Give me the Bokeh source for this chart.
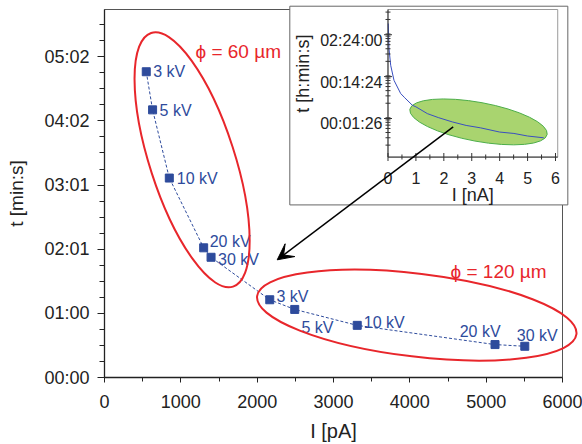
import math
from bokeh.plotting import figure
from bokeh.models import FixedTicker, Range1d, LogScale, Arrow, VeeHead
from bokeh.core.properties import value
from bokeh.embed import file_html
from bokeh.resources import INLINE

# ---------------- data ----------------
voltage_labels = ["3 kV", "5 kV", "10 kV", "20 kV", "30 kV"]
current_60 = [547, 630, 849, 1299, 1396]          # pA, phi = 60 um
time_60 = [287.9, 252.0, 187.8, 122.1, 113.2]     # s
current_120 = [2165, 2492, 3311, 5116, 5506]      # pA, phi = 120 um
time_120 = [73.2, 64.1, 49.1, 31.0, 29.4]         # s

x_ticks = [0, 1000, 2000, 3000, 4000, 5000, 6000]
y_ticks = [0, 60.4, 120.8, 181.2, 241.6, 302.0]
y_tick_labels = ["00:00", "01:00", "02:01", "03:01", "04:02", "05:02"]

# inset curve (nA, s)
inset_current = [0.01, 0.036, 0.097, 0.215, 0.454, 0.6, 0.872, 1.0, 1.41,
                 1.8, 2.30, 2.8, 3.32, 4.0, 4.51, 5.0, 5.58]
inset_time = [16000, 4024, 1608, 705, 341, 270, 179, 164, 113,
              91, 71.7, 59, 51.6, 41, 38.0, 33, 29.9]
inset_x_ticks = [0, 1, 2, 3, 4, 5, 6]
inset_y_ticks = [86.4, 864, 8640]
inset_y_labels = ["00:01:26", "00:14:24", "02:24:00"]

# ---------------- style ----------------
FONT = value("Liberation Sans")
BLUE = "#2E4B9C"
RED = "#E8262B"
AX = "#222222"

p = figure(width=582, height=444, x_range=Range1d(0, 6000), y_range=Range1d(0, 346.5),
           output_backend="svg", toolbar_location=None,
           min_border_left=104, min_border_right=20, min_border_top=9, min_border_bottom=66)
p.xgrid.visible = False
p.ygrid.visible = False
p.outline_line_color = "#555555"
p.outline_line_width = 1
p.background_fill_color = "white"
p.border_fill_color = "white"

# x axis
xa = p.xaxis[0]
xa.ticker = FixedTicker(ticks=x_ticks, minor_ticks=[v + 500 for v in x_ticks[:-1]])
xa.axis_label = "I [pA]"
xa.axis_label_text_font = "Liberation Sans"
xa.axis_label_text_font_size = "20px"
xa.axis_label_text_font_style = "normal"
xa.axis_label_text_color = AX
xa.axis_label_standoff = 9
xa.major_label_text_font = "Liberation Sans"
xa.major_label_text_font_size = "18px"
xa.major_label_text_color = AX
xa.major_label_standoff = 12
xa.major_tick_out = 5
xa.major_tick_in = 0
xa.minor_tick_out = 4
xa.minor_tick_in = 0
xa.axis_line_color = AX
xa.major_tick_line_color = AX
xa.minor_tick_line_color = AX
xa.axis_line_width = 1.3

# y axis
ya = p.yaxis[0]
minor_y = [i * 15.1 for i in range(23) if i % 4 != 0]
ya.ticker = FixedTicker(ticks=y_ticks, minor_ticks=minor_y)
ya.major_label_overrides = {v: l for v, l in zip(y_ticks, y_tick_labels)}
ya.major_label_text_font = "Liberation Sans"
ya.major_label_text_font_size = "18px"
ya.major_label_text_color = AX
ya.major_label_standoff = 8
ya.major_tick_out = 7
ya.major_tick_in = 0
ya.minor_tick_out = 5
ya.minor_tick_in = 0
ya.axis_line_color = AX
ya.major_tick_line_color = AX
ya.minor_tick_line_color = AX
ya.axis_line_width = 1.3
ya.axis_label = "t [min:s]"
ya.axis_label_text_font = "Liberation Sans"
ya.axis_label_text_font_size = "19px"
ya.axis_label_text_font_style = "normal"
ya.axis_label_text_color = AX
ya.axis_label_standoff = 14

# ---------------- main series ----------------
all_I = current_60 + current_120
all_t = time_60 + time_120
p.line(all_I, all_t, line_color=BLUE, line_width=1, line_dash="3 2")
p.scatter(all_I, all_t, marker="square", size=8, fill_color=BLUE, line_color=BLUE)

dx_60 = [7, 7, 7.5, 6, 7]
dy_60 = [0, 0.7, 0, -6.6, 2.3]
dx_120 = [6.7, 6.7, 6.6, -35.3, -8]
dy_120 = [-3, 18.3, -2.7, -13, -10.3]
p.text(all_I, all_t, text=voltage_labels + voltage_labels,
       x_offset=dx_60 + dx_120, y_offset=dy_60 + dy_120,
       text_font=FONT, text_font_size="16px", text_color=BLUE,
       text_align="left", text_baseline="alphabetic")

# red ellipses + labels
e1 = p.ellipse(x=1147.6, y=205.0, width=266.5, height=85, angle=math.radians(-72.1),
               width_units="screen", height_units="screen",
               fill_color=None, line_color=RED, line_width=2)
e2 = p.ellipse(x=4091, y=58.7, width=321.6, height=83, angle=math.radians(-6.8),
               width_units="screen", height_units="screen",
               fill_color=None, line_color=RED, line_width=2)
e1.level = "overlay"
e2.level = "overlay"
p.text(x=[1192, 4533], y=[307.4, 99.8], text=["ϕ = 60 µm", "ϕ = 120 µm"],
       text_font=FONT, text_font_size="19px", text_color=RED,
       text_align="left", text_baseline="alphabetic")

# ---------------- inset ----------------
p.extra_x_ranges = {"ix": Range1d(-10.155, 6.251)}
p.extra_y_ranges = {"iy": Range1d(5.66e-5, 34580)}
p.extra_y_scales = {"iy": LogScale()}

box = p.quad(left=2427.6, right=6069.7, bottom=162.5, top=349.6,
             fill_color="white", line_color="#666666", line_width=1)
box.level = "overlay"

IX0, IX1, IY0, IY1 = 0, 6.08, 10.35, 34580
frame = p.quad(left=IX0, right=IX1, bottom=IY0, top=IY1, fill_color=None,
               line_color="#9a9a9a", line_width=1, x_range_name="ix", y_range_name="iy")
frame.level = "overlay"

ell = p.ellipse(x=3.242, y=71.7, width=139.6, height=39, angle=math.radians(-10.4),
                width_units="screen", height_units="screen",
                fill_color="#A9D46F", line_color="#4DAE4A", line_width=1,
                x_range_name="ix", y_range_name="iy")
ell.level = "overlay"

cur = p.line(inset_current, inset_time, line_color="#3A4FC0", line_width=1,
             x_range_name="ix", y_range_name="iy")
cur.level = "overlay"

# inset axis lines
ax_l = p.segment(x0=[IX0, IX0], y0=[IY0, IY0], x1=[IX0, IX1], y1=[IY1, IY0],
                 line_color="#333333", line_width=1, x_range_name="ix", y_range_name="iy")
ax_l.level = "overlay"

# inset ticks
ixt_minor = [v + 0.5 for v in inset_x_ticks[:-1]]
t_major_x = p.rect(x=inset_x_ticks, y=[IY0] * 7, width=1, height=8,
                   width_units="screen", height_units="screen",
                   fill_color="#333333", line_color=None, x_range_name="ix", y_range_name="iy")
t_major_x.level = "overlay"
t_minor_x = p.rect(x=ixt_minor, y=[IY0] * 6, width=1, height=5,
                   width_units="screen", height_units="screen",
                   fill_color="#333333", line_color=None, x_range_name="ix", y_range_name="iy")
t_minor_x.level = "overlay"

iy_minor = [m * 10 ** d for d in range(1, 5) for m in range(2, 10) if IY0 < m * 10 ** d < IY1]
t_major_y = p.rect(x=[IX0] * 3, y=inset_y_ticks, width=8, height=1,
                   width_units="screen", height_units="screen",
                   fill_color="#333333", line_color=None, x_range_name="ix", y_range_name="iy")
t_major_y.level = "overlay"
t_minor_y = p.rect(x=[IX0] * len(iy_minor), y=iy_minor, width=5, height=1,
                   width_units="screen", height_units="screen",
                   fill_color="#333333", line_color=None, x_range_name="ix", y_range_name="iy")
t_minor_y.level = "overlay"

# inset tick labels and titles
lx = p.text(x=inset_x_ticks, y=[IY0] * 7, text=[str(v) for v in inset_x_ticks],
            y_offset=21.3, text_font=FONT, text_font_size="16px", text_color=AX,
            text_align="center", text_baseline="alphabetic",
            x_range_name="ix", y_range_name="iy")
lx.level = "overlay"
ly = p.text(x=[IX0] * 3, y=inset_y_ticks, text=inset_y_labels,
            x_offset=-5.5, y_offset=5.5, text_font=FONT, text_font_size="16px", text_color=AX,
            text_align="right", text_baseline="alphabetic",
            x_range_name="ix", y_range_name="iy")
ly.level = "overlay"
lab1 = p.text(x=[3.04], y=[IY0], text=["I [nA]"], y_offset=38,
              text_font=FONT, text_font_size="18px", text_color=AX,
              text_align="center", text_baseline="alphabetic",
              x_range_name="ix", y_range_name="iy")
lab1.level = "overlay"
lab2 = p.text(x=[-3.045], y=[1018], text=["t [h:min:s]"], angle=math.pi / 2,
              text_font=FONT, text_font_size="18px", text_color=AX,
              text_align="center", text_baseline="middle",
              x_range_name="ix", y_range_name="iy")
lab2.level = "overlay"

# arrow
arr = Arrow(x_start=4568, y_start=236.0, x_end=2262.5, y_end=110.8,
            line_color="black", line_width=1.5,
            end=VeeHead(size=16, fill_color="black", line_color="black"))
arr.level = "overlay"
p.add_layout(arr)

open("out.html", "w").write(file_html(p, INLINE))
